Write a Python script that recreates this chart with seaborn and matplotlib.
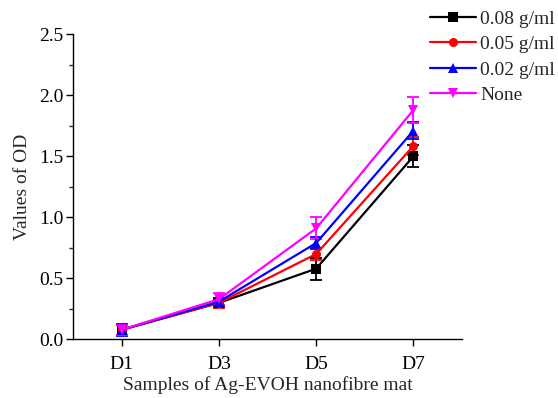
import numpy as np
import pandas as pd
import matplotlib
matplotlib.use("Agg")
import matplotlib.pyplot as plt
import seaborn as sns
from matplotlib.ticker import MultipleLocator

days = ["D1", "D3", "D5", "D7"]
groups = ["0.08 g/ml", "0.05 g/ml", "0.02 g/ml", "None"]
od_008 = [0.08, 0.30, 0.58, 1.50]
od_005 = [0.08, 0.30, 0.70, 1.585]
od_002 = [0.08, 0.31, 0.79, 1.71]
od_none = [0.08, 0.33, 0.91, 1.88]
err_008 = [0.04, 0.03, 0.09, 0.09]
err_005 = [0.04, 0.04, 0.05, 0.07]
err_002 = [0.05, 0.03, 0.05, 0.07]
err_none = [0.04, 0.05, 0.09, 0.11]

values = [od_008, od_005, od_002, od_none]
errors = [err_008, err_005, err_002, err_none]
colors = ["#000000", "#ff0000", "#0000ff", "#ff00ff"]
markers = ["s", "o", "^", "v"]

df = pd.DataFrame({
    "day": np.tile(days, len(groups)),
    "pos": np.tile(np.arange(len(days)), len(groups)),
    "group": np.repeat(groups, len(days)),
    "od": np.concatenate(values),
    "err": np.concatenate(errors),
})

sns.set_style("ticks")
plt.rcParams["font.family"] = ["Liberation Serif", "DejaVu Serif"]

fig = plt.figure(figsize=(5.58, 3.98), dpi=100)
ax = fig.add_axes([0.131, 0.147, 0.697, 0.767])

palette = dict(zip(groups, colors))
mk = dict(zip(groups, markers))

for g in groups:
    sub = df[df["group"] == g]
    ax.errorbar(sub["pos"], sub["od"], yerr=sub["err"], fmt="none",
                ecolor=palette[g], elinewidth=1.3, capsize=4, capthick=1.3,
                zorder=2)

sns.lineplot(data=df, x="pos", y="od", hue="group", style="group",
             hue_order=groups, style_order=groups, palette=palette,
             markers=mk, dashes=False, linewidth=1.6, markersize=6.5,
             markeredgewidth=0, ax=ax, zorder=3)

ax.set_xlim(-0.5, 3.5)
ax.set_ylim(0, 2.5)
ax.set_xticks(range(len(days)))
ax.set_xticklabels(days)
ax.yaxis.set_major_locator(MultipleLocator(0.5))
ax.yaxis.set_minor_locator(MultipleLocator(0.25))
ax.yaxis.set_major_formatter(matplotlib.ticker.FormatStrFormatter("%.1f"))
ax.tick_params(axis="both", which="major", direction="out", length=5,
               width=1.0, labelsize=14, colors="black")
ax.tick_params(axis="x", which="major", pad=7)
ax.tick_params(axis="y", which="major", pad=2)
ax.tick_params(axis="y", which="minor", direction="out", length=3, width=1.0)
for side in ["top", "right"]:
    ax.spines[side].set_visible(False)
for side in ["left", "bottom"]:
    ax.spines[side].set_linewidth(1.0)
    ax.spines[side].set_color("black")

ax.set_xlabel("Samples of Ag-EVOH nanofibre mat", fontsize=14, labelpad=2)
ax.set_ylabel("Values of OD", fontsize=14, labelpad=6)

handles, labels = ax.get_legend_handles_labels()
leg = ax.legend(handles, labels, loc="upper left",
                bbox_to_anchor=(0.756, 0.994), bbox_transform=fig.transFigure,
                frameon=False, fontsize=14, handlelength=2.4,
                handletextpad=0.2, labelspacing=0.4, borderaxespad=0)

fig.savefig("out.png", dpi=100)
